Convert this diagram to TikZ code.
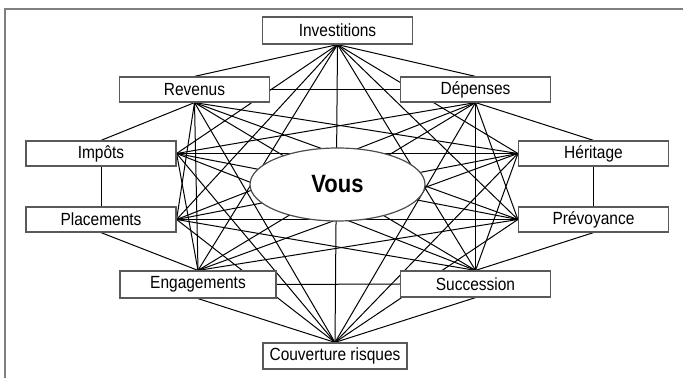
\documentclass[tikz,border=0pt]{standalone}
\usepackage{fontspec}
\setmainfont{Liberation Sans}
\newfontfamily\narrowfont[FakeStretch=0.88]{Liberation Sans}
\usetikzlibrary{shapes.geometric,backgrounds}

\tikzset{
  box/.style={draw=black!65, fill=white, line width=0.6pt, minimum width=75pt, minimum height=12.5pt, inner sep=0pt, font=\narrowfont\fontsize{8.8pt}{9pt}\selectfont},
  link/.style={line width=0.5pt},
}

\begin{document}
\begin{tikzpicture}[x=0.5pt,y=-0.5pt]
  \useasboundingbox (0,0) rectangle (683,378);

  % ring of topics
  \node[box, minimum height=13.5pt] (inv) at (337.5,30.5) {Investitions};
  \node[box] (rev) at (194.5,89.5) {Revenus};
  \node[box] (dep) at (475.5,89.5) {Dépenses};
  \node[box] (imp) at (101,153.5) {Impôts};
  \node[box] (her) at (593.5,153.5) {Héritage};
  \node[box] (pla) at (101,219.5) {Placements};
  \node[box] (pre) at (593.5,219.5) {Prévoyance};
  \node[box, minimum width=78pt, minimum height=13.5pt] (eng) at (198,284.5) {Engagements};
  \node[box, minimum height=13pt] (suc) at (475.5,284) {Succession};
  \node[box, minimum width=72pt, minimum height=13pt] (cou) at (335,356) {Couverture risques};

  % centre
  \node[draw=black!70, fill=white, ellipse, line width=0.6pt, minimum width=87.5pt, minimum height=36.5pt, inner sep=0pt,
        font=\narrowfont\bfseries\fontsize{12.5pt}{13pt}\selectfont] (vous) at (337.5,184.5) {Vous};

  \begin{pgfonlayer}{background}
    \draw[gray, line width=1pt] (5,378) -- (5,9) -- (683,9);

    % neighbours
    \draw[link] (inv.south) -- (rev.north);
    \draw[link] (inv.south) -- (dep.north);
    \draw[link] (rev.south) -- (imp.north);
    \draw[link] (dep.south) -- (her.north);
    \draw[link] (imp.south) -- (pla.north);
    \draw[link] (her.south) -- (pre.north);
    \draw[link] (pla.south) -- (eng.north);
    \draw[link] (pre.south) -- (suc.north);
    \draw[link] (eng.south) -- (cou.north);
    \draw[link] (suc.south) -- (cou.north);
    \draw[link] (rev.east) -- (dep.west);
    \draw[link] (eng.east) -- (suc.west);

    % all the others
    \foreach \a/\b in {inv.south/imp.east, inv.south/pla.east, inv.south/her.west, inv.south/pre.west,
                       inv.south/eng.north, inv.south/suc.north, inv.south/cou.north,
                       rev.south/pla.east, rev.south/her.west, rev.south/pre.west,
                       rev.south/eng.north, rev.south/suc.north, rev.south/cou.north,
                       dep.south/imp.east, dep.south/pla.east, dep.south/pre.west,
                       dep.south/eng.north, dep.south/suc.north, dep.south/cou.north,
                       imp.east/her.west, imp.east/pre.west, imp.east/eng.north, imp.east/suc.north, imp.east/cou.north,
                       pla.east/her.west, pla.east/pre.west, pla.east/suc.north, pla.east/cou.north,
                       her.west/eng.north, her.west/suc.north, her.west/cou.north,
                       pre.west/eng.north, pre.west/cou.north}
      \draw[link] (\a) -- (\b);
  \end{pgfonlayer}
\end{tikzpicture}
\end{document}
